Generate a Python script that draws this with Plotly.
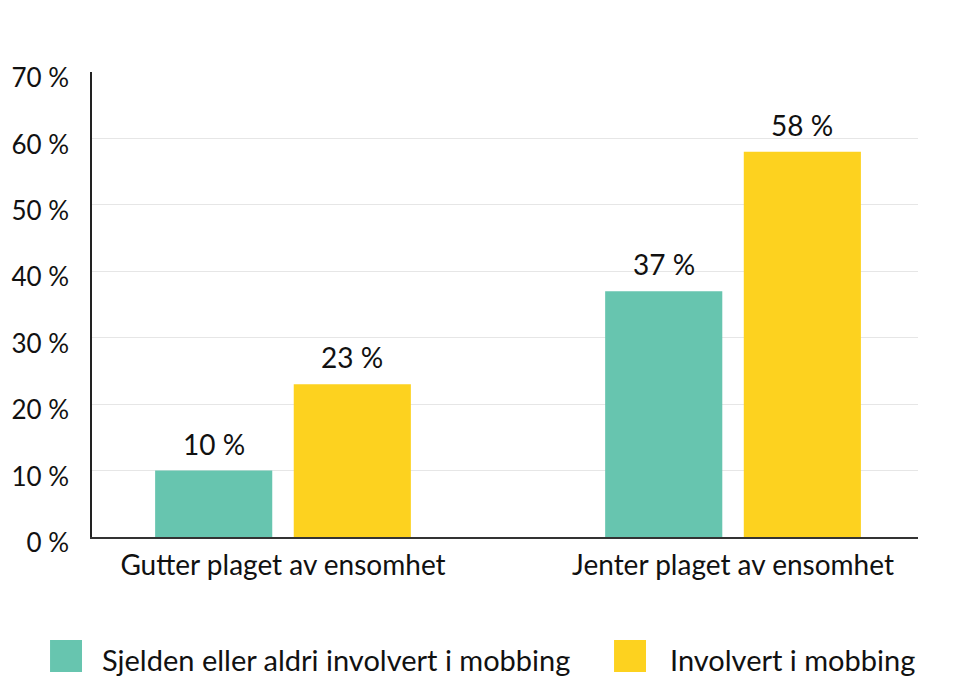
import plotly.graph_objects as go

categories = ["Gutter plaget av ensomhet", "Jenter plaget av ensomhet"]
series_names = ["Sjelden eller aldri involvert i mobbing", "Involvert i mobbing"]
values_not_involved = [10, 37]
values_involved = [23, 58]
tick_vals = [0, 10, 20, 30, 40, 50, 60, 70]
tick_text = ["0 %", "10 %", "20 %", "30 %", "40 %", "50 %", "60 %", "70 %"]
colors = ["#67C5AF", "#FDD21F"]

FONT = "Lato"
fig = go.Figure()
all_vals = [values_not_involved, values_involved]
for name, vals, col in zip(series_names, all_vals, colors):
    fig.add_trace(go.Bar(x=categories, y=vals, name=name, marker_color=col,
                         marker_line_width=0, showlegend=False))

# value labels above bars
slot_px = 138.5
for si, vals in enumerate(all_vals):
    shift = (si - 0.5) * slot_px
    for c, v in zip(categories, vals):
        fig.add_annotation(x=c, y=v, text=f"{v} %", showarrow=False,
                           xanchor="center", yanchor="bottom", xshift=shift, yshift=8,
                           font=dict(family=FONT, size=28, color="#111"))

# custom legend
leg_sq = [-0.0508, 0.632]
leg_tx = [0.0097, 0.6973]
for name, col, sx, tx in zip(series_names, colors, leg_sq, leg_tx):
    fig.add_shape(type="rect", xref="paper", yref="paper",
                  x0=sx, x1=sx + 0.0387, y0=-0.2903, y1=-0.2215,
                  fillcolor=col, line_width=0, layer="above")
    fig.add_annotation(xref="paper", yref="paper", x=tx, y=-0.2624,
                       text=name, showarrow=False, xanchor="left", yanchor="middle",
                       font=dict(family=FONT, size=29, color="#111"))

fig.update_layout(
    width=946, height=671,
    margin=dict(l=84, r=36, t=64, b=142, autoexpand=False),
    plot_bgcolor="white", paper_bgcolor="white",
    barmode="group", bargap=0.384, bargroupgap=0.155,
    font=dict(family=FONT, size=28, color="#111"),
    xaxis=dict(type="category", range=[-0.4244, 1.411], showline=True,
               linecolor="#333", linewidth=2, ticks="", showgrid=False,
               ticklabelstandoff=2, automargin=False,
               tickfont=dict(family=FONT, size=28, color="#111")),
    yaxis=dict(range=[0, 70], tickvals=tick_vals, ticktext=tick_text,
               showline=True, linecolor="#222", linewidth=1.5,
               gridcolor="#e6e6e6", gridwidth=1, ticks="", ticklabelstandoff=16,
               ticklabelshift=6,
               zeroline=False, automargin=False,
               tickfont=dict(family=FONT, size=26, color="#111")),
)
fig.write_html("out.html")
